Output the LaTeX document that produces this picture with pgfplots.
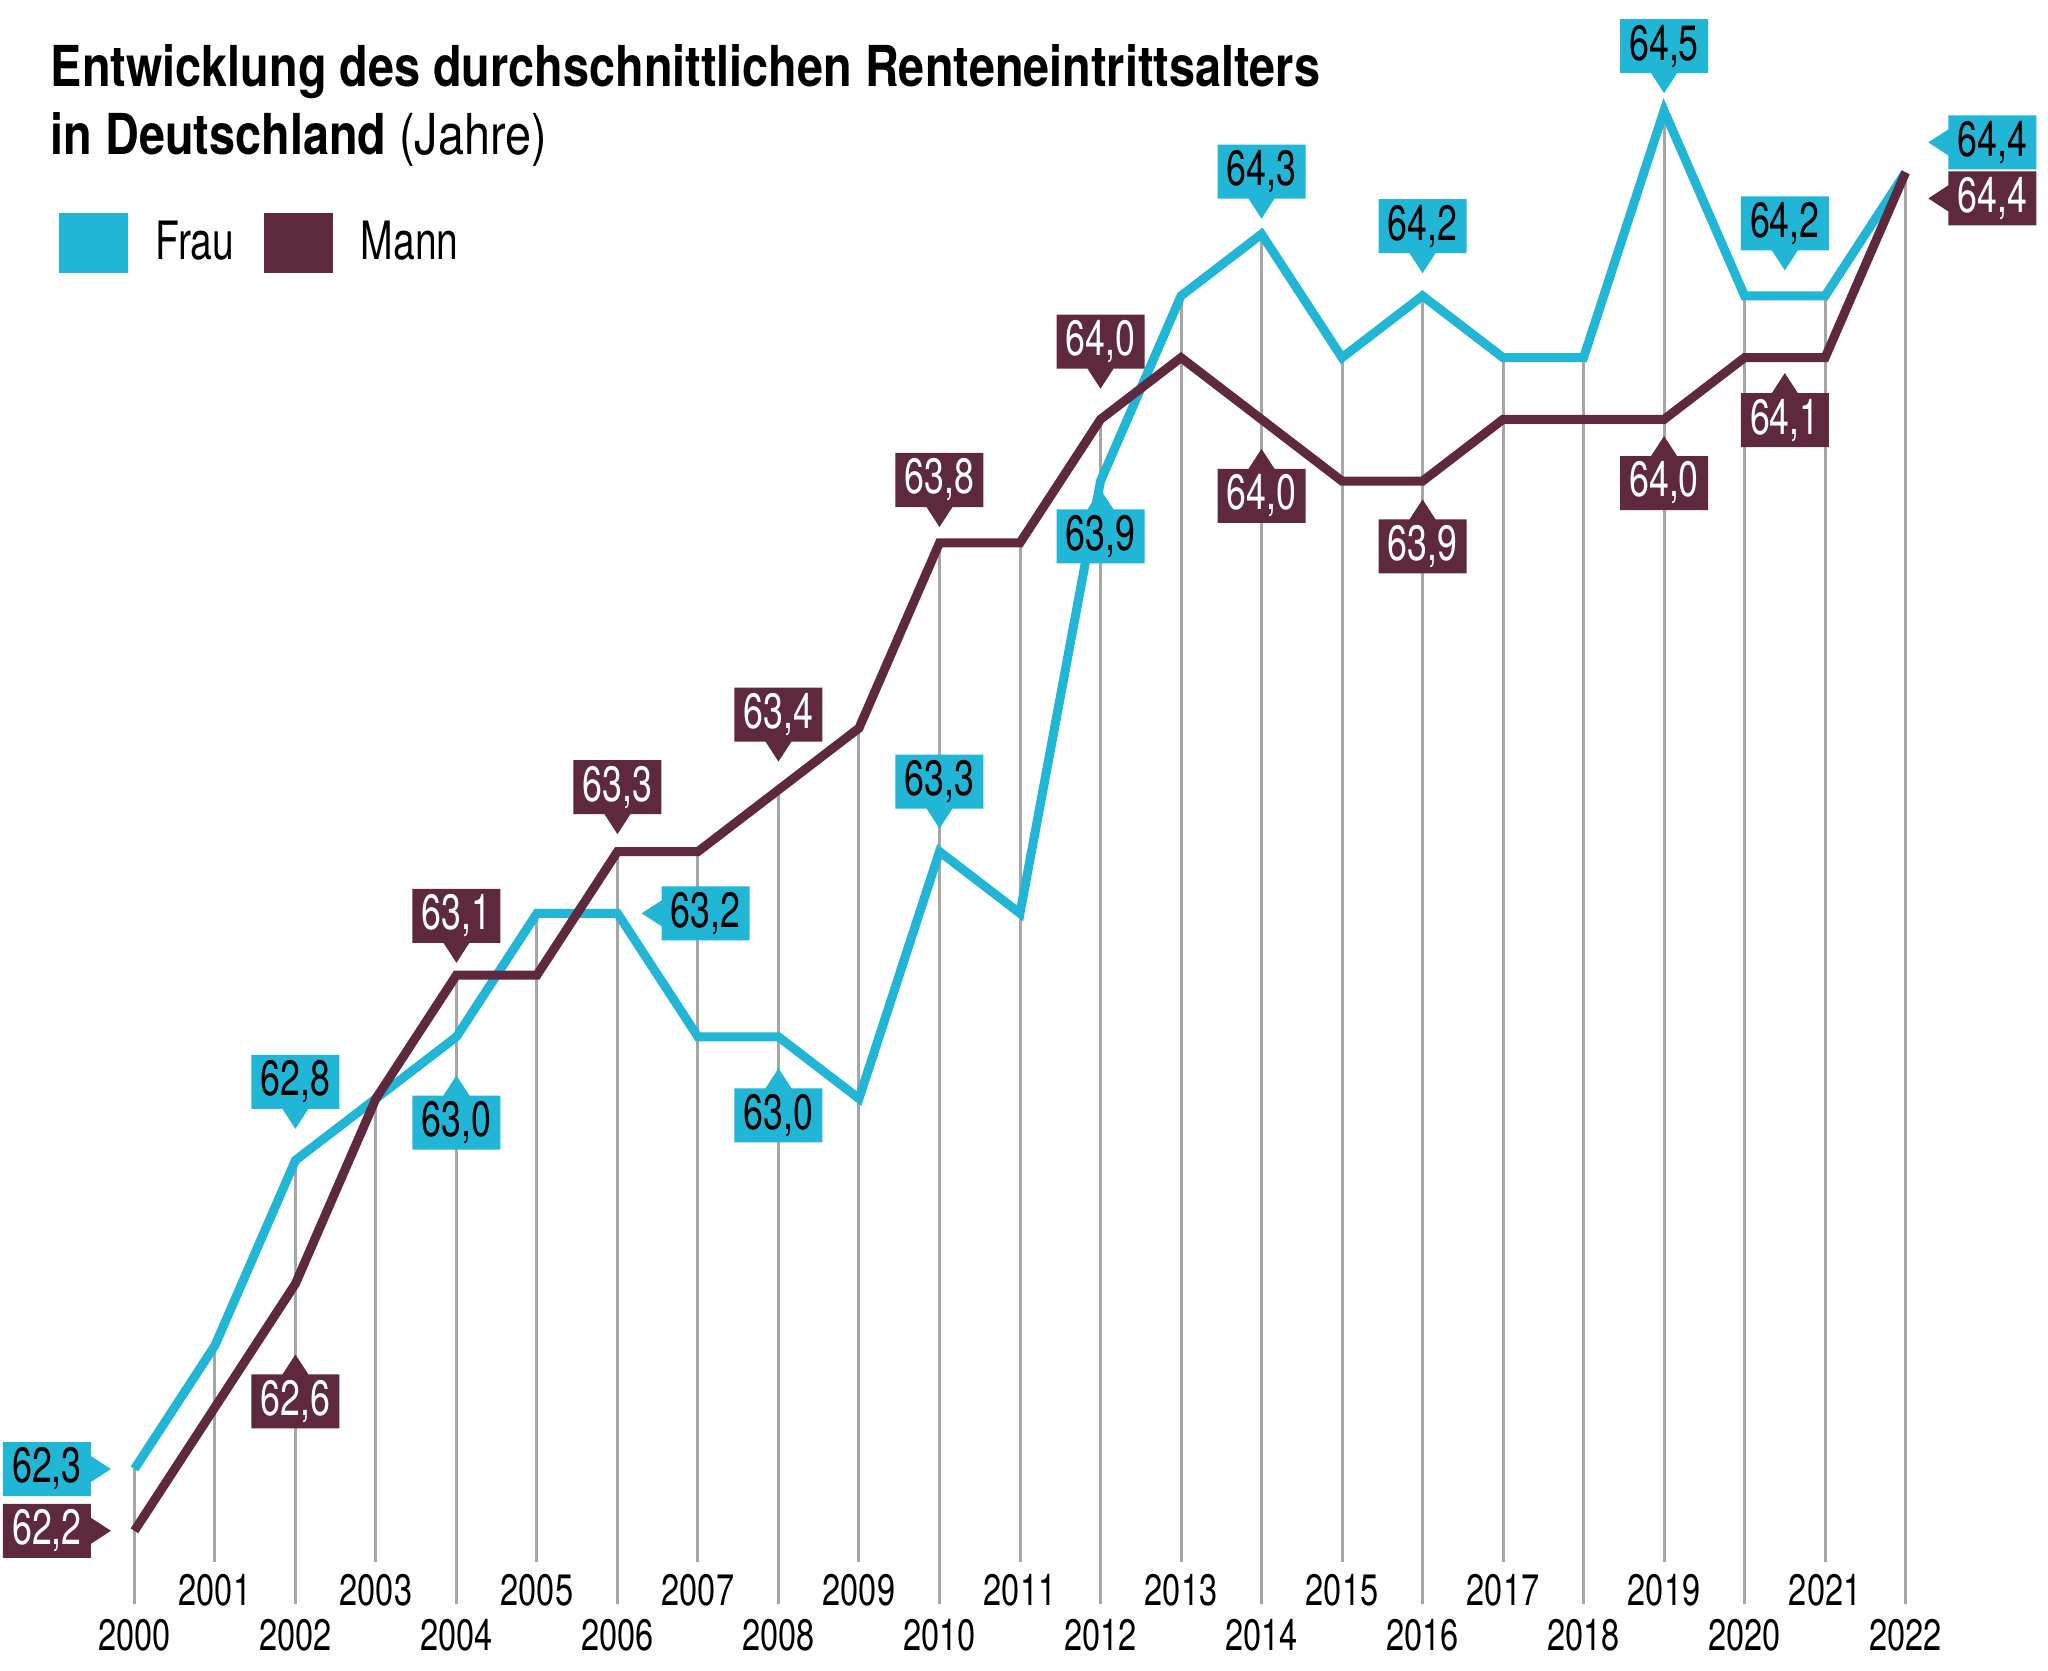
\documentclass[border=0pt]{standalone}
\usepackage{fontspec}
\setmainfont{TeX Gyre Heros}[FakeStretch=0.78]
\newfontfamily\titlefont{TeX Gyre Heros}[FakeStretch=0.83]
\newfontfamily\legendfont{TeX Gyre Heros}[FakeStretch=0.74]
\newfontfamily\narrowfont{TeX Gyre Heros}[FakeStretch=0.72]
\usepackage{pgfplots}
\pgfplotsset{compat=1.18}
\usetikzlibrary{shapes.callouts}
\definecolor{frau}{RGB}{33,182,214}
\definecolor{mann}{RGB}{94,40,62}
\definecolor{gridgray}{RGB}{166,166,166}
\newcommand\labfont{\narrowfont\fontsize{12.4pt}{13pt}\selectfont}
\newcommand\yearfont{\legendfont\fontsize{11pt}{12pt}\selectfont}
\newcommand\legfont{\legendfont\fontsize{13.2pt}{14pt}\selectfont}
\newcommand\ttlfont{\titlefont\fontsize{14.1pt}{16pt}\selectfont}

\pgfplotstableread{
x y
2000 62.3
2001 62.5
2002 62.8
2003 62.9
2004 63.0
2005 63.2
2006 63.2
2007 63.0
2008 63.0
2009 62.9
2010 63.3
2011 63.2
2012 63.9
2013 64.2
2014 64.3
2015 64.1
2016 64.2
2017 64.1
2018 64.1
2019 64.5
2020 64.2
2021 64.2
2022 64.4
}\fraudata

\pgfplotstableread{
x y
2000 62.2
2001 62.4
2002 62.6
2003 62.9
2004 63.1
2005 63.1
2006 63.3
2007 63.3
2008 63.4
2009 63.5
2010 63.8
2011 63.8
2012 64.0
2013 64.1
2014 64.0
2015 63.9
2016 63.9
2017 64.0
2018 64.0
2019 64.0
2020 64.1
2021 64.1
2022 64.4
}\manndata

% labels: x y text pointer-x pointer-y shift-x shift-y (pt)
\pgfplotstableread{
x y lab px py dx dy
2000 62.3 62,3 5 0 -5.5 0
2002 62.8 62,8 0 -5 0 7.5
2004 63.0 63,0 0 5 0 -9.3
2006 63.2 63,2 -5 0 5.7 0
2008 63.0 63,0 0 5 0 -7.5
2010 63.3 63,3 0 -5 0 5.4
2012 63.9 63,9 0 5 0 -1.7
2014 64.3 64,3 0 -5 0 3.5
2016 64.2 64,2 0 -5 0 5.3
2019 64.5 64,5 0 -5 0 4
2020.5 64.2 64,2 0 -5 0 6
2022 64.4 64,4 -5 0 5.3 7.5
}\fraulab

\pgfplotstableread{
x y lab px py dx dy
2000 62.2 62,2 5 0 -5.5 0
2002 62.6 62,6 0 5 0 -17.3
2004 63.1 63,1 0 -5 0 2.7
2006 63.3 63,3 0 -5 0 4
2008 63.4 63,4 0 -5 0 6.7
2010 63.8 63,8 0 -5 0 3.6
2012 64.0 64,0 0 -5 0 7.3
2014 64.0 64,0 0 5 0 -7
2016 63.9 63,9 0 5 0 -4.2
2019 64.0 64,0 0 5 0 -3.8
2020.5 64.1 64,1 0 5 0 -3.5
2022 64.4 64,4 -5 0 5.3 -6.5
}\mannlab

\pgfplotsset{
  labelplot/.style={
    forget plot, draw=none, mark=none,
    point meta=explicit symbolic,
    visualization depends on={\thisrow{px}\as\px},
    visualization depends on={\thisrow{py}\as\py},
    visualization depends on={\thisrow{dx}\as\dx},
    visualization depends on={\thisrow{dy}\as\dy},
    nodes near coords={\pgfplotspointmeta},
    nodes near coords style={shape=rectangle callout, draw=none,
      inner sep=0pt, minimum width=22pt, minimum height=13.5pt,
      callout pointer width=6.5pt,
      callout relative pointer={(\px pt,\py pt)},
      anchor=pointer, xshift=\dx pt, yshift=\dy pt, font=\labfont},
  },
}

\begin{document}
\begin{tikzpicture}
\begin{axis}[
  scale only axis, width=442.8pt, height=339.6pt,
  xmin=2000, xmax=2022, ymin=62.2, ymax=64.4,
  clip=false, axis line style={draw=none},
  ytick=\empty,
  xtick={2000,2002,...,2022},
  xticklabels={2000,2002,2004,2006,2008,2010,2012,2014,2016,2018,2020,2022},
  extra x ticks={2001,2003,...,2021},
  extra x tick labels={2001,2003,2005,2007,2009,2011,2013,2015,2017,2019,2021},
  extra x tick style={xticklabel style={yshift=11.25pt}},
  xtick style={draw=none}, major tick length=0pt,
  xticklabel style={anchor=center, yshift=-26.1pt, font=\yearfont, text=black},
  legend columns=2,
  legend image code/.code={\fill[draw=none] (0pt,-7.5pt) rectangle (17.3pt,7.5pt);},
  legend style={draw=none, fill=none, inner sep=0pt, outer sep=0pt,
    at={(rel axis cs:0,1)}, anchor=north west, xshift=-18.9pt, yshift=-10.15pt,
    font=\legfont, cells={anchor=west},
    /tikz/every odd column/.append style={column sep=4.9pt},
    /tikz/every even column/.append style={column sep=5.4pt}},
]
\coordinate (bl) at (rel axis cs:0,0);
\coordinate (tr) at (rel axis cs:1,1);

\addplot[forget plot, color=gridgray, line width=0.75pt, unbounded coords=jump] coordinates {
(2000,62.081) (2000,62.3) (2000,nan)
(2001,62.149) (2001,62.5) (2001,nan)
(2002,62.081) (2002,62.8) (2002,nan)
(2003,62.149) (2003,62.9) (2003,nan)
(2004,62.081) (2004,63.1) (2004,nan)
(2005,62.149) (2005,63.2) (2005,nan)
(2006,62.081) (2006,63.3) (2006,nan)
(2007,62.149) (2007,63.3) (2007,nan)
(2008,62.081) (2008,63.4) (2008,nan)
(2009,62.149) (2009,63.5) (2009,nan)
(2010,62.081) (2010,63.8) (2010,nan)
(2011,62.149) (2011,63.8) (2011,nan)
(2012,62.081) (2012,64.0) (2012,nan)
(2013,62.149) (2013,64.2) (2013,nan)
(2014,62.081) (2014,64.3) (2014,nan)
(2015,62.149) (2015,64.1) (2015,nan)
(2016,62.081) (2016,64.2) (2016,nan)
(2017,62.149) (2017,64.1) (2017,nan)
(2018,62.081) (2018,64.1) (2018,nan)
(2019,62.149) (2019,64.5) (2019,nan)
(2020,62.081) (2020,64.2) (2020,nan)
(2021,62.149) (2021,64.2) (2021,nan)
(2022,62.081) (2022,64.4)
};

\addplot[color=frau, line width=2.25pt, line join=miter, line cap=butt, mark=none] table[x=x,y=y] {\fraudata};
\addlegendentry{Frau}
\addplot[color=mann, line width=2.25pt, line join=miter, line cap=butt, mark=none] table[x=x,y=y] {\manndata};
\addlegendentry{Mann}

\addplot[labelplot, nodes near coords style={fill=frau, text=black}] table[x=x,y=y,meta=lab] {\fraulab};
\addplot[labelplot, nodes near coords style={fill=mann, text=white}] table[x=x,y=y,meta=lab] {\mannlab};

\node[anchor=base west, inner sep=0pt, xshift=-21.1pt, yshift=21.35pt, font=\ttlfont\bfseries]
  at (rel axis cs:0,1) {Entwicklung des durchschnittlichen Renteneintrittsalters};
\node[anchor=base west, inner sep=0pt, xshift=-21.1pt, yshift=4.35pt, font=\ttlfont]
  at (rel axis cs:0,1) {\textbf{in Deutschland} (Jahre)};
\end{axis}
\pgfresetboundingbox
\path[use as bounding box] ([xshift=-33.6pt, yshift=-34.9pt]bl) rectangle ([xshift=35.6pt, yshift=43.1pt]tr);
\end{tikzpicture}
\end{document}
